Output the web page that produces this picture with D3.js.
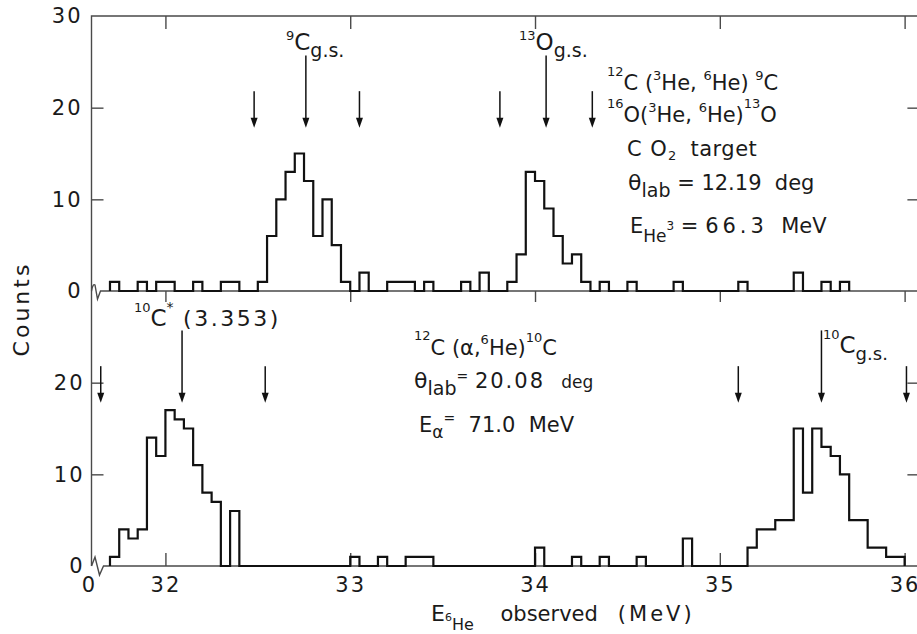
<!DOCTYPE html>
<html>
<head>
<meta charset="utf-8">
<script src="https://cdn.jsdelivr.net/npm/d3@7"></script>
<style>
body { margin: 0; background: #fff; }
svg { display: block; font-family: "DejaVu Sans", sans-serif; }
text { fill: #1a1a1a; white-space: pre; }
</style>
</head>
<body>
<svg id="chart" width="917" height="634"></svg>
<script>
// 50 keV bins, first bin starts at 31.70 MeV
var binStart = 31.70;
var binWidth = 0.05;

// 12C,16O(3He,6He) on CO2 target
var topCounts = [
  1, 0, 0, 1, 0, 1, 1, 0, 0, 1,
  0, 0, 1, 1, 0, 0, 1, 6, 10, 13,
  15, 12, 6, 10, 5, 1, 0, 2, 0, 0,
  1, 1, 1, 0, 1, 0, 0, 0, 1, 0,
  2, 0, 0, 1, 4, 13, 12, 9, 6, 3,
  4, 1, 0, 1, 0, 0, 1, 0, 0, 0,
  0, 1, 0, 0, 0, 0, 0, 0, 1, 0,
  0, 0, 0, 0, 2, 0, 0, 1, 0, 1
];

// 12C(alpha,6He)10C
var bottomCounts = [
  1, 4, 3, 4, 14, 12, 17, 16, 15, 11,
  8, 7, 0, 6, 0, 0, 0, 0, 0, 0,
  0, 0, 0, 0, 0, 0, 1, 0, 0, 1,
  0, 0, 1, 1, 1, 0, 0, 0, 0, 0,
  0, 0, 0, 0, 0, 0, 2, 0, 0, 0,
  1, 0, 0, 1, 0, 0, 0, 1, 0, 0,
  0, 0, 3, 0, 0, 0, 0, 0, 0, 2,
  4, 4, 5, 5, 15, 8, 15, 13, 12, 10,
  5, 5, 2, 2, 1, 1
];

var xTicks = [32, 33, 34, 35, 36];
var yTicksTop = [0, 10, 20, 30];
var yTicksBottom = [0, 10, 20];
var innerTicks = [10, 20];

// arrow positions (MeV): labelled states and limits
var topStateArrows = [32.76, 34.06];
var topLimitArrows = [32.48, 33.05, 33.81, 34.31];
var bottomStateArrows = [32.09, 35.55];
var bottomLimitArrows = [31.65, 32.54, 35.10, 36.01];

var svg = d3.select("#chart");

var x = d3.scaleLinear().domain([31.6, 36.08]).range([91.5, 919.4]);
var yTop = d3.scaleLinear().domain([0, 30]).range([291, 16]);
var yBot = d3.scaleLinear().domain([0, 30]).range([566, 291]);

var axisColor = "#4a4a4a";
var left = x.range()[0], right = x.range()[1];

// frame
svg.append("path")
  .attr("d", "M" + left + "," + yBot(0) + "V" + yTop(30) + "H" + right + "V" + yBot(0))
  .attr("fill", "none").attr("stroke", axisColor).attr("stroke-width", 1.4);

// baselines with axis break
svg.append("path")
  .attr("d", "M" + left + ",291 Q93,283 95,285 L97.5,299 L100.5,291 H" + right)
  .attr("fill", "none").attr("stroke", axisColor).attr("stroke-width", 1.4);
svg.append("path")
  .attr("d", "M" + left + ",566 L95,557 L99.5,575 L103.5,566 H" + right)
  .attr("fill", "none").attr("stroke", axisColor).attr("stroke-width", 1.4);

function styleAxis(g) {
  g.select(".domain").remove();
  g.selectAll(".tick line").attr("stroke", axisColor).attr("stroke-width", 1.4);
  g.selectAll(".tick text")
    .attr("fill", "#1a1a1a")
    .style("font-size", "21px")
    .style("letter-spacing", "2px")
    .style("font-family", "DejaVu Sans, sans-serif");
}

// x ticks: top border (down), middle line (down), bottom axis (up, labels)
svg.append("g").attr("transform", "translate(0," + yTop(30) + ")")
  .call(d3.axisTop(x).tickValues(xTicks).tickSizeInner(-13).tickSizeOuter(0).tickFormat(""))
  .call(styleAxis);
svg.append("g").attr("transform", "translate(0," + yTop(0) + ")")
  .call(d3.axisBottom(x).tickValues(xTicks).tickSizeInner(11).tickSizeOuter(0).tickFormat(""))
  .call(styleAxis);
svg.append("g").attr("transform", "translate(0," + yBot(0) + ")")
  .call(d3.axisBottom(x).tickValues(xTicks).tickSizeInner(-13).tickSizeOuter(0).tickPadding(11).tickFormat(d3.format("d")))
  .call(styleAxis);

// origin "0" under the axis break
svg.append("text")
  .attr("x", left - 3).attr("y", yBot(0) + 11).attr("dy", "0.71em")
  .attr("text-anchor", "middle").style("font-size", "21px")
  .text("0");

// y axes
svg.append("g").attr("transform", "translate(" + left + ",0)")
  .call(d3.axisLeft(yTop).tickValues(yTicksTop).tickSizeInner(-12).tickSizeOuter(0).tickPadding(9))
  .call(styleAxis)
  .call(function(g) { g.selectAll(".tick").filter(function(d) { return d === 0 || d === 30; }).select("line").remove(); });
svg.append("g").attr("transform", "translate(" + left + ",0)")
  .call(d3.axisLeft(yBot).tickValues(yTicksBottom).tickSizeInner(-12).tickSizeOuter(0).tickPadding(7))
  .call(styleAxis)
  .call(function(g) { g.selectAll(".tick").filter(function(d) { return d === 0; }).select("line").remove(); });
svg.append("g").attr("transform", "translate(" + right + ",0)")
  .call(d3.axisRight(yTop).tickValues(innerTicks).tickSizeInner(-12).tickSizeOuter(0).tickFormat(""))
  .call(styleAxis);
svg.append("g").attr("transform", "translate(" + right + ",0)")
  .call(d3.axisRight(yBot).tickValues(innerTicks).tickSizeInner(-12).tickSizeOuter(0).tickFormat(""))
  .call(styleAxis);

// histograms
function histPoints(counts) {
  var pts = [[binStart, 0]];
  counts.forEach(function(c, i) { pts.push([binStart + i * binWidth, c]); });
  pts.push([binStart + counts.length * binWidth, 0]);
  return pts;
}
function drawHist(counts, y) {
  var line = d3.line()
    .x(function(d) { return x(d[0]); })
    .y(function(d) { return y(d[1]); })
    .curve(d3.curveStepAfter);
  svg.append("path")
    .attr("d", line(histPoints(counts)))
    .attr("fill", "none")
    .attr("stroke", "#111")
    .attr("stroke-width", 2.2)
    .attr("stroke-linejoin", "miter");
}
drawHist(topCounts, yTop);
drawHist(bottomCounts, yBot);

// arrows (heights in counts units)
var arrowTip = 17.8, shortTop = 21.8, longTop = 25.7;
function drawArrows(list, y, from) {
  list.forEach(function(e) {
    var ax = x(e), tip = y(arrowTip);
    svg.append("line")
      .attr("x1", ax).attr("x2", ax)
      .attr("y1", y(from)).attr("y2", tip - 6)
      .attr("stroke", "#111").attr("stroke-width", 1.5);
    svg.append("path")
      .attr("d", "M" + (ax - 3.5) + "," + (tip - 10) + "L" + (ax + 3.5) + "," + (tip - 10) + "L" + ax + "," + tip + "Z")
      .attr("fill", "#111");
  });
}
drawArrows(topStateArrows, yTop, longTop);
drawArrows(topLimitArrows, yTop, shortTop);
drawArrows(bottomStateArrows, yBot, longTop);
drawArrows(bottomLimitArrows, yBot, shortTop);

// rich text: parts are [text, size, baseline offset, letter spacing]
function rich(x0, y0, parts) {
  var t = svg.append("text").attr("x", x0).attr("y", y0);
  var cur = 0;
  parts.forEach(function(p) {
    var sp = t.append("tspan")
      .attr("dy", p[2] - cur)
      .style("font-size", p[1] + "px")
      .text(p[0]);
    if (p[3]) sp.style("letter-spacing", p[3] + "px");
    cur = p[2];
  });
  return t;
}

// top panel labels
rich(286, 50, [["9", 13, -10], ["C", 23, 0], ["g.s.", 19, 7]]);
rich(519, 50, [["13", 13, -10], ["O", 23, 0], ["g.s.", 19, 7]]);
rich(607, 90, [["12", 13, -14], ["C (", 21, 0], ["3", 13, -10], ["He, ", 21, 0],
               ["6", 13, -10], ["He) ", 21, 0], ["9", 13, -10], ["C", 21, 0]]);
rich(607, 122, [["16", 13, -14], ["O(", 21, 0], ["3", 13, -10], ["He, ", 21, 0],
                ["6", 13, -10], ["He)", 21, 0], ["13", 13, -14], ["O", 21, 0]]);
rich(627, 156, [["C O", 21, 0, 1], ["2", 13, 4], ["  target", 21, 0, 0.5]]);
rich(628, 190, [["\u03b8", 22, 0], ["lab", 19, 7], [" = 12.19  deg", 21, 0]]);
rich(630, 233, [["E", 21, 0], ["He", 17, 9], ["3", 12, -3], [" = ", 21, 0], ["66.3", 21, 0, 4], ["  MeV", 21, 0]]);

// bottom panel labels
rich(134, 326, [["10", 13, -14], ["C", 23, 0], ["*", 14, -14], [" (3.353)", 22, 0, 2.5]]);
rich(414, 355, [["12", 13, -15], ["C (\u03b1,", 21, 0], ["6", 13, -11], ["He)", 21, 0], ["10", 13, -13], ["C", 21, 0]]);
rich(414, 388, [["\u03b8", 22, 0], ["lab", 19, 7], ["=", 14, -7], [" ", 21, 0], ["20.08", 21, 0, 2], ["   deg", 17, 0]]);
rich(419, 432, [["E", 21, 0], ["\u03b1", 17, 6], ["=", 14, -9], ["  71.0  MeV", 21, 0]]);
rich(823, 353, [["10", 13, -14], ["C", 23, 0], ["g.s.", 18, 7]]);

// axis titles
svg.append("text")
  .attr("transform", "translate(29,309) rotate(-90)")
  .attr("text-anchor", "middle")
  .style("font-size", "22px").style("letter-spacing", "3px")
  .text("Counts");
rich(431, 621, [["E", 22, 0], ["6", 11, 0], ["He", 16, 9], ["    observed   ", 21, 0], ["(MeV)", 21, 0, 3]]);
</script>
</body>
</html>
